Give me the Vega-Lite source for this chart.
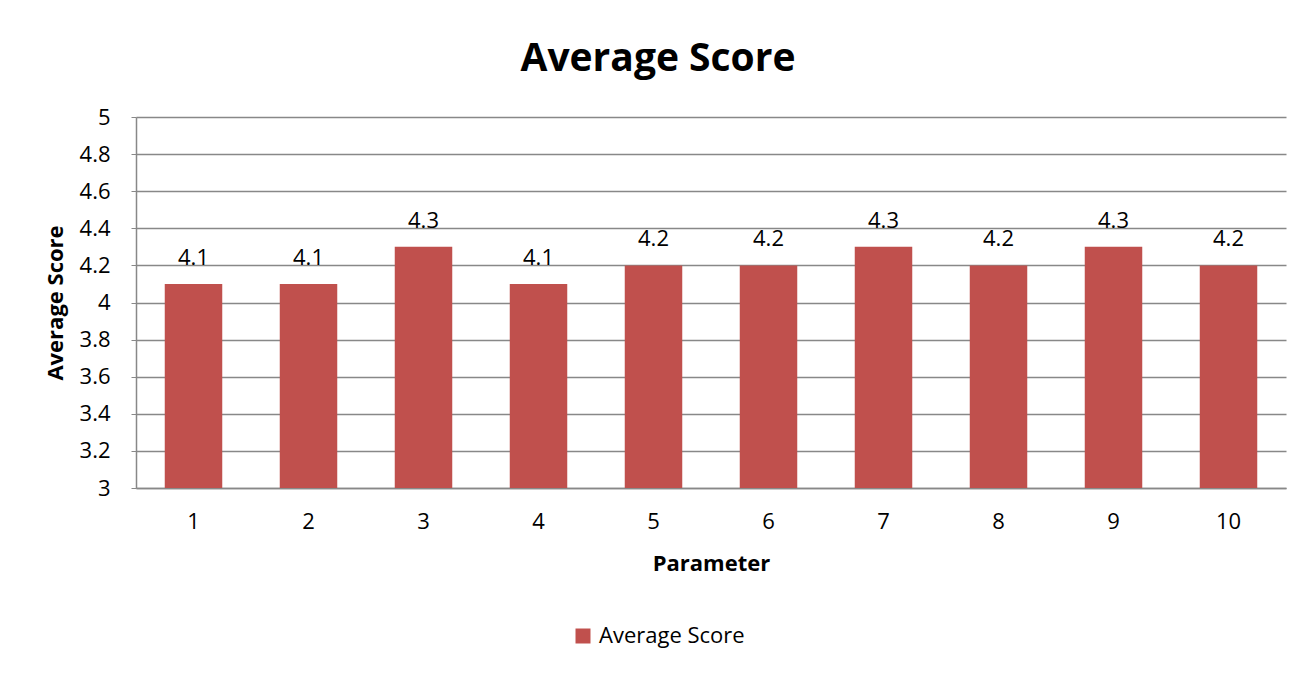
{
  "$schema": "https://vega.github.io/schema/vega-lite/v6.json",
  "autosize": "none",
  "width": 1150,
  "height": 371,
  "padding": {"left": 136, "top": 117, "right": 30, "bottom": 187},
  "background": "white",
  "config": {
    "font": "Open Sans",
    "view": {"stroke": null},
    "axis": {"labelFont": "Open Sans", "titleFont": "Open Sans", "labelColor": "black", "titleColor": "black"}
  },
  "title": {
    "text": "Average Score",
    "font": "Open Sans",
    "fontSize": 39,
    "fontWeight": "bold",
    "color": "black",
    "anchor": "middle",
    "baseline": "alphabetic",
    "offset": -4,
    "dx": -53
  },
  "data": {
    "values": [
      {"Parameter": "1", "Score": 4.1},
      {"Parameter": "2", "Score": 4.1},
      {"Parameter": "3", "Score": 4.3},
      {"Parameter": "4", "Score": 4.1},
      {"Parameter": "5", "Score": 4.2},
      {"Parameter": "6", "Score": 4.2},
      {"Parameter": "7", "Score": 4.3},
      {"Parameter": "8", "Score": 4.2},
      {"Parameter": "9", "Score": 4.3},
      {"Parameter": "10", "Score": 4.2}
    ]
  },
  "encoding": {
    "x": {
      "field": "Parameter",
      "type": "ordinal",
      "sort": null,
      "scale": {"paddingInner": 0.5, "paddingOuter": 0.25},
      "axis": {
        "title": "Parameter",
        "labelAngle": 0,
        "labelFontSize": 22,
        "titleFontSize": 22,
        "titleFontWeight": "bold",
        "ticks": false,
        "labelPadding": 23,
        "titlePadding": 21,
        "domainColor": "#888888",
        "domainWidth": 1.5
      }
    },
    "y": {
      "field": "Score",
      "type": "quantitative",
      "scale": {"domain": [3, 5], "zero": false, "nice": false},
      "axis": {
        "title": "Average Score",
        "values": [3, 3.2, 3.4, 3.6, 3.8, 4, 4.2, 4.4, 4.6, 4.8, 5],
        "format": "~g",
        "labelFontSize": 22,
        "titleFontSize": 22,
        "titleFontWeight": "bold",
        "tickSize": 5,
        "tickColor": "#888888",
        "labelPadding": 21,
        "titlePadding": 12,
        "gridColor": "#888888",
        "gridWidth": 1.3,
        "domainColor": "#888888",
        "domainWidth": 1.5
      }
    }
  },
  "layer": [
    {
      "mark": {"type": "bar", "color": "#C0504D", "clip": true},
      "encoding": {
        "color": {
          "datum": "Average Score",
          "scale": {"range": ["#C0504D"]},
          "legend": {
            "title": null,
            "orient": "none",
            "legendX": 436,
            "legendY": 508,
            "symbolType": "square",
            "symbolSize": 225,
            "symbolStrokeWidth": 0,
            "labelFontSize": 22,
            "labelFont": "Open Sans",
            "labelColor": "black",
            "labelOffset": 5
          }
        }
      }
    },
    {
      "mark": {"type": "text", "baseline": "alphabetic", "dy": -19, "fontSize": 22, "color": "black", "font": "Open Sans"},
      "encoding": {"text": {"field": "Score", "type": "quantitative", "format": ".1f"}}
    }
  ]
}
